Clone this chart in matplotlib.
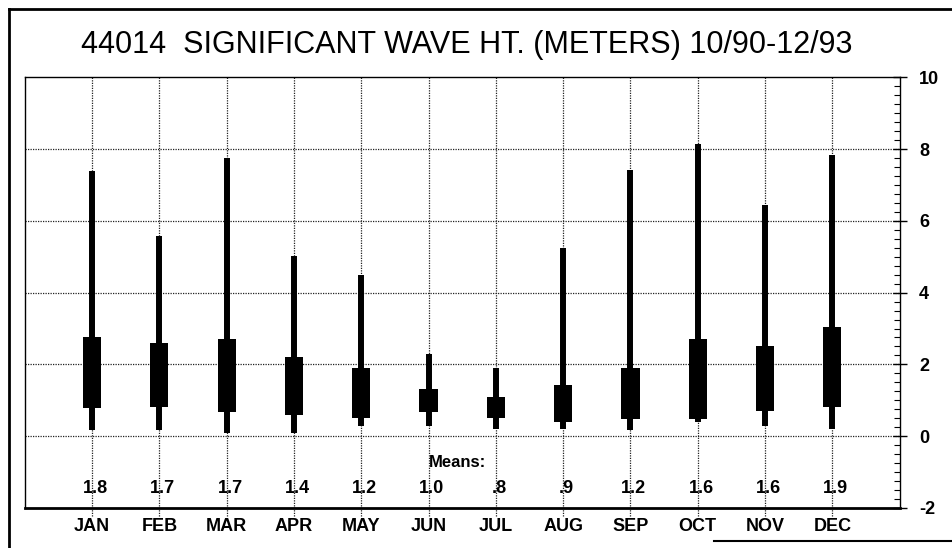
import numpy as np
import matplotlib
matplotlib.use('Agg')
import matplotlib.pyplot as plt
from matplotlib.lines import Line2D
from matplotlib.ticker import MultipleLocator

# data (meters)
months = ['JAN', 'FEB', 'MAR', 'APR', 'MAY', 'JUN', 'JUL', 'AUG', 'SEP', 'OCT', 'NOV', 'DEC']
wave_max = [7.40, 5.58, 7.75, 5.01, 4.49, 2.30, 1.90, 5.24, 7.41, 8.14, 6.45, 7.84]
box_top = [2.76, 2.59, 2.70, 2.21, 1.90, 1.31, 1.10, 1.42, 1.89, 2.72, 2.52, 3.04]
box_bot = [0.78, 0.80, 0.67, 0.59, 0.50, 0.68, 0.50, 0.40, 0.48, 0.48, 0.70, 0.80]
wave_min = [0.16, 0.16, 0.08, 0.08, 0.28, 0.28, 0.19, 0.19, 0.16, 0.39, 0.29, 0.21]
means = ['1.8', '1.7', '1.7', '1.4', '1.2', '1.0', '.8', '.9', '1.2', '1.6', '1.6', '1.9']
y_ticks = [-2, 0, 2, 4, 6, 8, 10]

FAM = ['Liberation Sans Narrow', 'Liberation Sans', 'DejaVu Sans']
plt.rcParams['font.family'] = FAM

fig = plt.figure(figsize=(9.52, 5.48), dpi=100)
ax = fig.add_axes([0.026, 0.073, 0.919, 0.786])

x = np.arange(1, len(months) + 1)

# whiskers and boxes
ax.vlines(x, wave_min, wave_max, colors='black', linewidth=4.3, zorder=3)
ax.bar(x, np.array(box_top) - np.array(box_bot), bottom=box_bot, width=0.27,
       color='black', zorder=3)

ax.set_xlim(0, 13)
ax.set_ylim(-2, 10)

# dotted grid
for yy in [0, 2, 4, 6, 8]:
  ax.axhline(yy, color='#222222', linestyle=(0, (1, 1.0)), linewidth=0.9, zorder=1)
for xx in x:
  ax.plot([xx, xx], [-2.22, 10], color='#222222', linestyle=(0, (1, 1.0)),
          linewidth=0.9, zorder=1, clip_on=False)

# means row
ax.text(6.0, -0.72, 'Means:', ha='left', va='center', fontsize=12, fontweight='bold')
for xx, m in zip(x, means):
  ax.text(xx + 0.05, -1.45, m, ha='center', va='center', fontsize=13, fontweight='bold')

# axes styling
ax.set_xticks(x)
ax.set_xticklabels(months, fontsize=13, fontweight='bold')
ax.tick_params(axis='x', length=0, pad=7)
ax.yaxis.tick_right()
ax.set_yticks(y_ticks)
ax.set_yticklabels([str(t) for t in y_ticks], fontsize=13, fontweight='bold')
ax.yaxis.set_minor_locator(MultipleLocator(0.25))
ax.tick_params(axis='y', which='major', direction='inout', length=10, width=1, pad=9)
ax.tick_params(axis='y', which='minor', direction='in', length=4, width=0.8)
for side in ['left', 'top', 'right']:
  ax.spines[side].set_linewidth(1.0)
ax.spines['bottom'].set_linewidth(2.0)

fig.text(0.49, 0.918, '44014  SIGNIFICANT WAVE HT. (METERS) 10/90-12/93',
         ha='center', va='center', fontsize=22)

# outer frame
fig.add_artist(Line2D([0.009, 0.009], [0.0, 0.983], color='black', linewidth=2))
fig.add_artist(Line2D([0.009, 1.0], [0.983, 0.983], color='black', linewidth=2))
fig.add_artist(Line2D([0.75, 1.0], [0.012, 0.012], color='black', linewidth=1.5))

plt.savefig('out.png', dpi=100)
